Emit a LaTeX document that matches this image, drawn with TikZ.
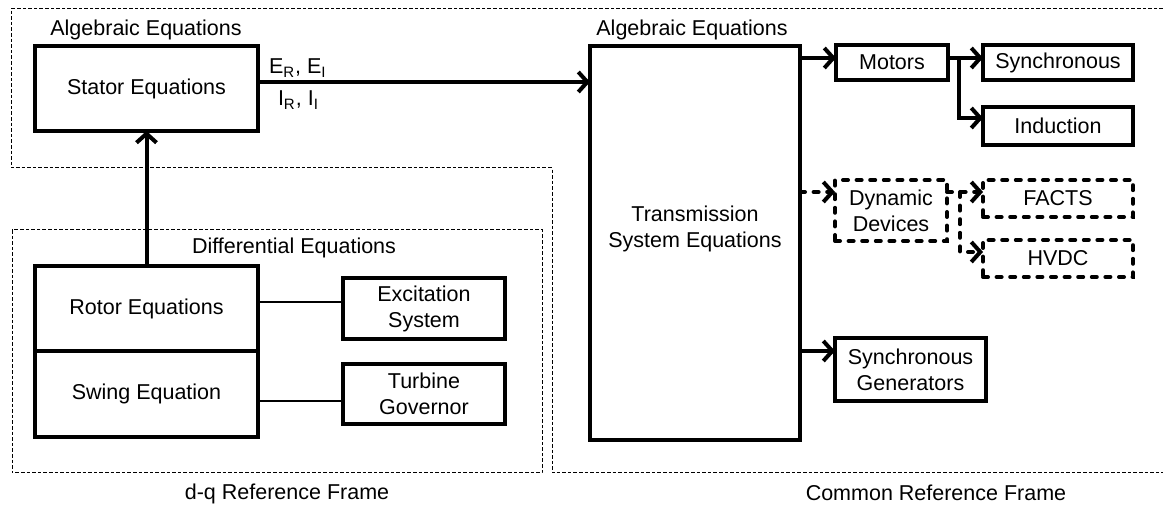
\documentclass[tikz,border=0pt]{standalone}
\usepackage{fontspec}
\setmainfont{Liberation Sans}
\usetikzlibrary{arrows.meta,calc}
\begin{document}
\begin{tikzpicture}[x=0.5pt,y=-0.5pt]
\tikzset{
  every node/.style={font=\fontsize{10.75}{13}\selectfont, inner sep=0pt, outer sep=0pt, align=center},
  blk/.style={draw, line width=2pt},
  devbox/.style={draw, line width=2pt, line cap=round, dash pattern=on 2.5pt off 4.3pt},
  arr/.style={line width=2pt, -{Straight Barb[length=4.5pt,width=10pt]}},
  darr/.style={arr, line cap=round, dash pattern=on 2.5pt off 4.3pt},
  thinline/.style={line width=0.6pt},
  framepath/.style={line width=0.5pt, dash pattern=on 1.8pt off 1pt},
}
\useasboundingbox (0,0) rectangle (1163,507);

% reference-frame outlines
\draw[framepath] (1163,9) -- (11,9) -- (11,168) -- (552,168) -- (552,473) -- (1163,473);
\draw[framepath] (12,230) rectangle (542,473);

% region titles
\node (algL) at (146,30) {Algebraic Equations};
\node (algR) at (692,30) {Algebraic Equations};
\node (diffEq) at (294,248) {Differential Equations};
\node (dqFrame) at (287,494) {d-q Reference Frame};
\node (comFrame) at (936,493) {Common Reference Frame};

% machine model blocks
\node[blk, minimum width=111.5pt, minimum height=42.5pt] (stator) at (146.5,88.5) {Stator Equations};
\node[blk, minimum width=111.5pt, minimum height=42.5pt] (rotor) at (146.5,308.5) {Rotor Equations};
\node[blk, minimum width=111.5pt, minimum height=43pt] (swing) at (146.5,394) {Swing Equation};
\node[blk, minimum width=81pt, minimum height=30.5pt] (excite) at (424,308.5) {Excitation\\System};
\node[blk, minimum width=81pt, minimum height=30pt] (turbine) at (424,394) {Turbine\\Governor};

% network blocks
\node[blk, minimum width=105pt, minimum height=197pt] (trans) at (695,243) {};
\node (transtxt) at (695,229) {Transmission\\System Equations};
\node[blk, minimum width=56pt, minimum height=17.5pt] (motors) at (892,62.5) {Motors};
\node[blk, minimum width=75pt, minimum height=17.5pt] (sync) at (1058,62.5) {Synchronous};
\node[blk, minimum width=75pt, minimum height=19pt] (induction) at (1058,126) {Induction};
\node[devbox, minimum width=56pt, minimum height=30.5pt] (dynamic) at (891,210.5) {Dynamic\\Devices};
\node[devbox, minimum width=75pt, minimum height=18.5pt] (facts) at (1058,198.5) {FACTS};
\node[devbox, minimum width=75pt, minimum height=18.5pt] (hvdc) at (1058,258.5) {HVDC};
\node[blk, minimum width=75.5pt, minimum height=31.5pt] (syngen) at (910.5,369.5) {Synchronous\\Generators};

% interface variables
\node[anchor=base west] (erei) at (269,74) {E\textsubscript{R}, E\textsubscript{I}};
\node[anchor=base west] (irii) at (278,106) {I\textsubscript{R}, I\textsubscript{I}};

% machine connectors
\coordinate (sOut) at ([yshift=3.25pt]stator.east);
\draw[arr] (sOut) -- (sOut -| trans.west);
\draw[arr] (rotor.north) -- (stator.south);
\draw[thinline] ([yshift=3.25pt]rotor.east) -- ([yshift=3.25pt]excite.west);
\draw[thinline] ([yshift=-3.5pt]swing.east) -- ([yshift=-3.5pt]turbine.west);

% network connectors
\coordinate (mIn) at ([yshift=2.25pt]motors.west);
\draw[arr] (mIn -| trans.east) -- (mIn);
\coordinate (dIn) at ([yshift=9.25pt]dynamic.west);
\draw[darr] (dIn -| trans.east) -- (dIn);
\coordinate (gIn) at ([yshift=9.25pt]syngen.west);
\draw[arr] (gIn -| trans.east) -- (gIn);

% motor types
\coordinate (syIn) at ([yshift=2.25pt]sync.west);
\coordinate (inIn) at ([yshift=4pt]induction.west);
\coordinate (mSplit) at ([xshift=5.5pt]syIn -| motors.east);
\draw[arr] (syIn -| motors.east) -- (syIn);
\draw[arr] (mSplit) |- (inIn);

% dynamic device types
\coordinate (fIn) at ([yshift=3.25pt]facts.west);
\coordinate (hIn) at ([yshift=3.25pt]hvdc.west);
\coordinate (dSplit) at ([xshift=6.5pt]fIn -| dynamic.east);
\draw[darr] (fIn -| dynamic.east) -- (fIn);
\draw[darr] (dSplit) |- (hIn);
\end{tikzpicture}
\end{document}
